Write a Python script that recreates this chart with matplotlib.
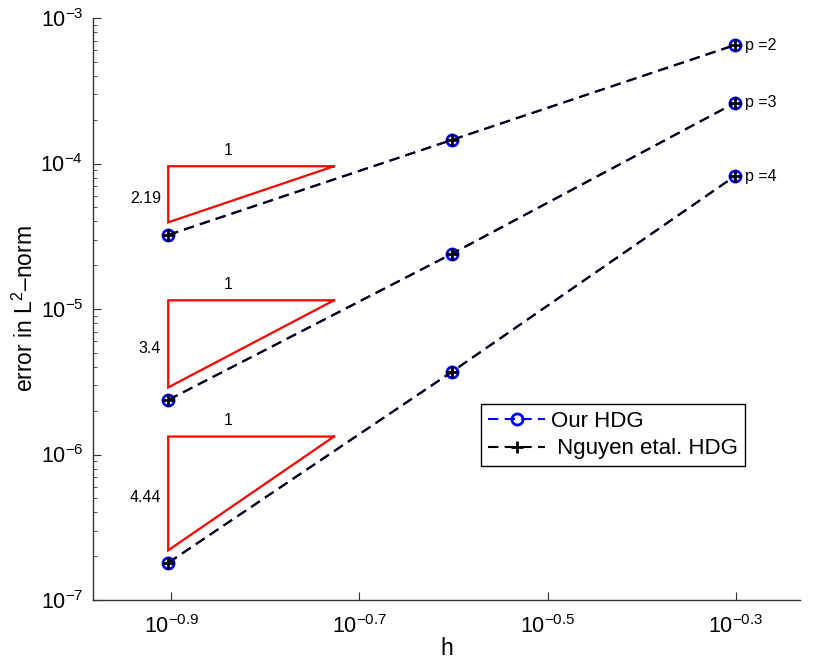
import numpy as np
import matplotlib
matplotlib.use("Agg")
import matplotlib.pyplot as plt
from matplotlib.ticker import FixedLocator, FixedFormatter, LogLocator, NullLocator, NullFormatter

plt.rcParams['font.family'] = ['Liberation Sans', 'DejaVu Sans']
plt.rcParams['mathtext.fontset'] = 'custom'
plt.rcParams['mathtext.rm'] = 'Liberation Sans'
plt.rcParams['mathtext.it'] = 'Liberation Sans:italic'
plt.rcParams['mathtext.bf'] = 'Liberation Sans:bold'

# mesh size and L2 errors for polynomial orders 2,3,4
h = [0.125, 0.25, 0.5]
orders = [2, 3, 4]
err_ours = {
    2: [3.23e-5, 1.45e-4, 6.52e-4],
    3: [2.37e-6, 2.39e-5, 2.61e-4],
    4: [1.80e-7, 3.69e-6, 8.2e-5],
}
err_nguyen = {
    2: [3.23e-5, 1.45e-4, 6.52e-4],
    3: [2.37e-6, 2.39e-5, 2.61e-4],
    4: [1.80e-7, 3.69e-6, 8.2e-5],
}
rates = {2: 2.19, 3: 3.4, 4: 4.44}
rate_labels = {2: '2.19', 3: '3.4', 4: '4.44'}

xticks = [10**-0.9, 10**-0.7, 10**-0.5, 10**-0.3]
xticklabels = [r'$\mathregular{10^{-0.9}}$', r'$\mathregular{10^{-0.7}}$',
               r'$\mathregular{10^{-0.5}}$', r'$\mathregular{10^{-0.3}}$']
yticks = [1e-7, 1e-6, 1e-5, 1e-4, 1e-3]
yticklabels = [r'$\mathregular{10^{-7}}$', r'$\mathregular{10^{-6}}$', r'$\mathregular{10^{-5}}$',
               r'$\mathregular{10^{-4}}$', r'$\mathregular{10^{-3}}$']

fig = plt.figure(figsize=(8.17, 6.6), dpi=100)
ax = fig.add_axes([93 / 817, 1 - 600 / 660, (800 - 93) / 817, (600 - 18) / 660])
ax.set_xscale('log')
ax.set_yscale('log')

axcol = '0.2'
for p in orders:
    l1, = ax.plot(h, err_ours[p], color='blue', linestyle='--', dashes=(5, 3), lw=1.5,
                  marker='o', markersize=8, markerfacecolor='none', markeredgewidth=2,
                  markeredgecolor='blue')
    l2, = ax.plot(h, err_nguyen[p], color='black', linestyle='--', dashes=(5, 3), lw=1.5,
                  marker='+', markersize=8, markeredgewidth=2)
    ax.text(h[-1] * 1.025, err_ours[p][-1], 'p =%d' % p, fontsize=11.5, va='center', ha='left')

    # slope triangle
    x0 = h[0]
    x1 = h[0] * 1.5
    yb = err_ours[p][0] * 1.22
    yt = yb * 1.5 ** rates[p]
    ax.plot([x1, x0, x0, x1], [yt, yt, yb, yt], color='red', lw=1.6, solid_joinstyle='miter')
    ax.annotate('1', xy=(x0 * 1.5 ** 0.36, yt), xytext=(0, 6), textcoords='offset points',
                fontsize=11.5, ha='center', va='bottom')
    ax.annotate(rate_labels[p], xy=(x0, np.sqrt(yb * yt)), xytext=(-5, -3), textcoords='offset points',
                fontsize=11.5, ha='right', va='center')

l1.set_label('Our HDG')
l2.set_label(' Nguyen etal. HDG')

ax.set_xlim(10**-0.983, 10**-0.232)
ax.set_ylim(1e-7, 1e-3)

ax.xaxis.set_major_locator(FixedLocator(xticks))
ax.xaxis.set_major_formatter(FixedFormatter(xticklabels))
ax.xaxis.set_minor_locator(NullLocator())
ax.yaxis.set_major_locator(FixedLocator(yticks))
ax.yaxis.set_major_formatter(FixedFormatter(yticklabels))
ax.yaxis.set_minor_locator(LogLocator(base=10, subs=np.arange(2, 10)))
ax.yaxis.set_minor_formatter(NullFormatter())

ax.tick_params(which='both', direction='in', colors=axcol, labelcolor='black', labelsize=15.5)
ax.tick_params(which='major', length=6, width=0.8, pad=7)
ax.tick_params(which='minor', length=3, width=0.6)
ax.tick_params(axis='x', pad=11)
for s in ['top', 'right']:
    ax.spines[s].set_visible(False)
for s in ['left', 'bottom']:
    ax.spines[s].set_color(axcol)
    ax.spines[s].set_linewidth(1.0)

ax.set_xlabel('h', fontsize=16.5, labelpad=-1)
ax.set_ylabel(r'error in L$^{\mathregular{2}}$–norm', fontsize=16.5, labelpad=2)

leg = ax.legend(handles=[l1, l2], loc='upper left', bbox_to_anchor=((481 - 93) / 707, (600 - 404) / 582),
                fontsize=16, fancybox=False, frameon=True, edgecolor='black', framealpha=1,
                handlelength=2.6, handletextpad=0.25, borderpad=0.3, labelspacing=0.3,
                borderaxespad=0)
leg.get_frame().set_linewidth(1.0)

fig.savefig('out.png', dpi=100)
